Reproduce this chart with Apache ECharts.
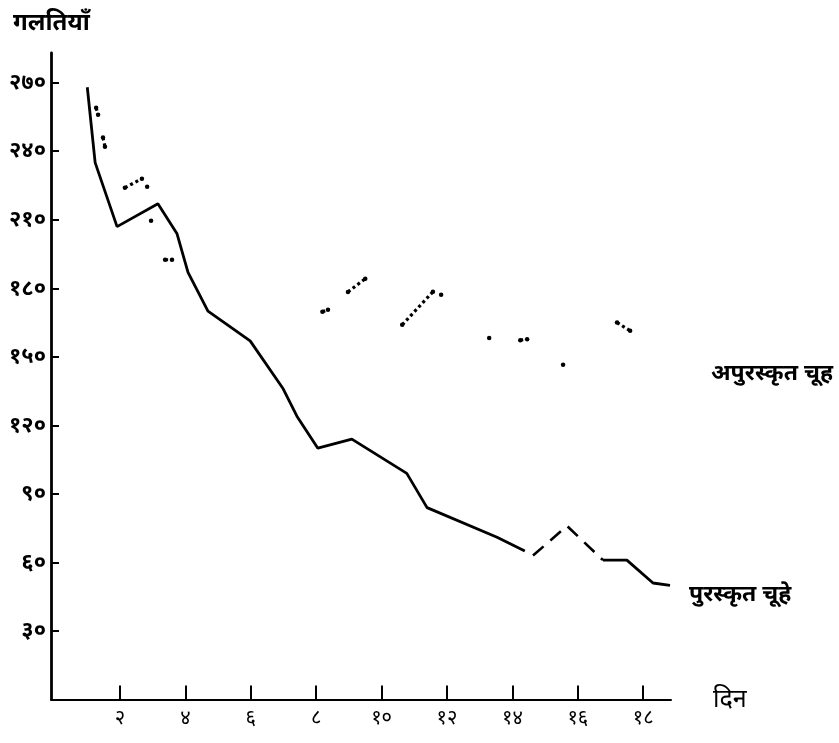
<!DOCTYPE html>
<html>
<head>
<meta charset="utf-8">
<script src="https://cdn.jsdelivr.net/npm/echarts@6/dist/echarts.min.js"></script>
<style>
  html, body { margin: 0; padding: 0; background: #ffffff; }
  #chart { width: 839px; height: 743px; }
</style>
</head>
<body>
<div id="chart"></div>
<script>
// Days of training (x) and mean errors (y) for the two groups of rats.
const rewardedDays   = [1.0, 1.24, 1.91, 3.16, 3.74, 4.08, 4.69, 5.98, 6.99, 7.41, 8.05, 9.09, 10.77, 11.39, 13.53, 14.38, 14.63, 15.67, 16.77, 17.5, 18.3, 18.82];
const rewardedErrors = [268, 235, 207, 217, 204, 187, 170, 157, 136, 124, 110, 114, 99, 84, 71, 65, 63, 76, 61, 61, 51, 50];
// the stretch between these indices is drawn dashed
const rewardedDashFrom = 16;
const rewardedDashTo = 18;

// Unrewarded group: faint dotted trace, null marks a break in the trace.
const unrewardedDays   = [1.27, 1.33, null, 1.48, 1.54, null, 2.15, 2.67, null, 2.83, null, 2.95, null, 3.38, 3.59, null, 8.19, 8.36, null, 8.97, 9.5, null, 10.63, 11.57, null, 11.82, null, 13.29, null, 14.24, 14.45, null, 15.55, null, 17.2, 17.6];
const unrewardedErrors = [259, 256, null, 246, 242, null, 224, 228, null, 224.5, null, 209.6, null, 192.5, 192.5, null, 169.7, 170.6, null, 178.4, 184.2, null, 164, 178.5, null, 177.2, null, 158.2, null, 157.3, 157.7, null, 146.5, null, 165, 161.4];

// Axis ticks and their Devanagari labels
const xTickValues = [2, 4, 6, 8, 10, 12, 14, 16, 18];
const xTickLabels = ['२', '४', '६', '८', '१०', '१२', '१४', '१६', '१८'];
const yTickValues = [30, 60, 90, 120, 150, 180, 210, 240, 270];
const yTickLabels = ['३०', '६०', '९०', '१२०', '१५०', '१८०', '२१०', '२४०', '२७०'];

const yTitle = 'गलतियाँ';
const xTitle = 'दिन';
const rewardedName = 'पुरस्कृत चूहे';
const unrewardedName = 'अपुरस्कृत चूह';

const solidData = rewardedDays.map((d, i) =>
  (i > rewardedDashFrom - 1 && i < rewardedDashTo) ? ['-', '-'] : [d, rewardedErrors[i]]);
const dashedData = rewardedDays.map((d, i) =>
  (i >= rewardedDashFrom && i <= rewardedDashTo) ? [d, rewardedErrors[i]] : ['-', '-']);
const unrewardedData = unrewardedDays.map((d, i) =>
  (d == null || unrewardedErrors[i] == null) ? ['-', '-'] : [d, unrewardedErrors[i]]);

const font = '"Noto Sans", "Lohit Devanagari", "FreeSans", sans-serif';

const chart = echarts.init(document.getElementById('chart'), null, { renderer: 'canvas' });
chart.setOption({
  backgroundColor: '#ffffff',
  animation: false,
  title: {
    text: yTitle,
    left: 8,
    top: 6,
    textStyle: { fontFamily: font, fontSize: 24, fontWeight: 'bold', color: '#000' }
  },
  grid: { left: 51, top: 53, width: 620, bottom: 43.5 },
  xAxis: {
    type: 'value',
    min: -0.11,
    max: 18.85,
    name: xTitle,
    nameLocation: 'end',
    nameGap: 42,
    nameTextStyle: { fontFamily: font, fontSize: 25, color: '#000', verticalAlign: 'middle', padding: [12, 0, 0, 0] },
    axisLine: { show: true, onZero: false, lineStyle: { color: '#000', width: 2 } },
    axisTick: { show: true, inside: true, length: 14, customValues: xTickValues, lineStyle: { color: '#000', width: 2 } },
    axisLabel: {
      customValues: xTickValues,
      margin: 9,
      fontFamily: font, fontSize: 20, color: '#000',
      formatter: v => xTickLabels[xTickValues.indexOf(Math.round(v))] || ''
    },
    splitLine: { show: false }
  },
  yAxis: {
    type: 'value',
    min: 0,
    max: 283,
    axisLine: { show: true, onZero: false, lineStyle: { color: '#000', width: 2.8 } },
    axisTick: { show: true, inside: true, length: 8, customValues: yTickValues, lineStyle: { color: '#000', width: 2 } },
    axisLabel: {
      customValues: yTickValues,
      margin: 5,
      fontFamily: font, fontSize: 22, fontWeight: 'bold', color: '#000',
      formatter: v => yTickLabels[yTickValues.indexOf(Math.round(v))] || ''
    },
    splitLine: { show: false }
  },
  series: [
    {
      name: rewardedName,
      type: 'line',
      data: solidData,
      clip: false,
      connectNulls: false,
      showSymbol: false,
      lineStyle: { color: '#000', width: 2.8 }
    },
    {
      name: rewardedName + ' (dashed)',
      type: 'line',
      data: dashedData,
      clip: false,
      connectNulls: false,
      showSymbol: false,
      lineStyle: { color: '#000', width: 2.6, type: [14, 9] }
    },
    {
      name: unrewardedName,
      type: 'line',
      data: unrewardedData,
      connectNulls: false,
      showSymbol: true,
      symbol: 'circle',
      symbolSize: 4.5,
      itemStyle: { color: '#000' },
      lineStyle: { color: '#000', width: 3.2, type: [3, 3] }
    }
  ],
  graphic: [
    {
      type: 'text', left: 711, top: 362,
      style: { text: unrewardedName, fontFamily: font, fontSize: 23, fontWeight: 'bold', fill: '#000' }
    },
    {
      type: 'text', left: 689, top: 583,
      style: { text: rewardedName, fontFamily: font, fontSize: 23, fontWeight: 'bold', fill: '#000' }
    }
  ]
});
</script>
</body>
</html>
